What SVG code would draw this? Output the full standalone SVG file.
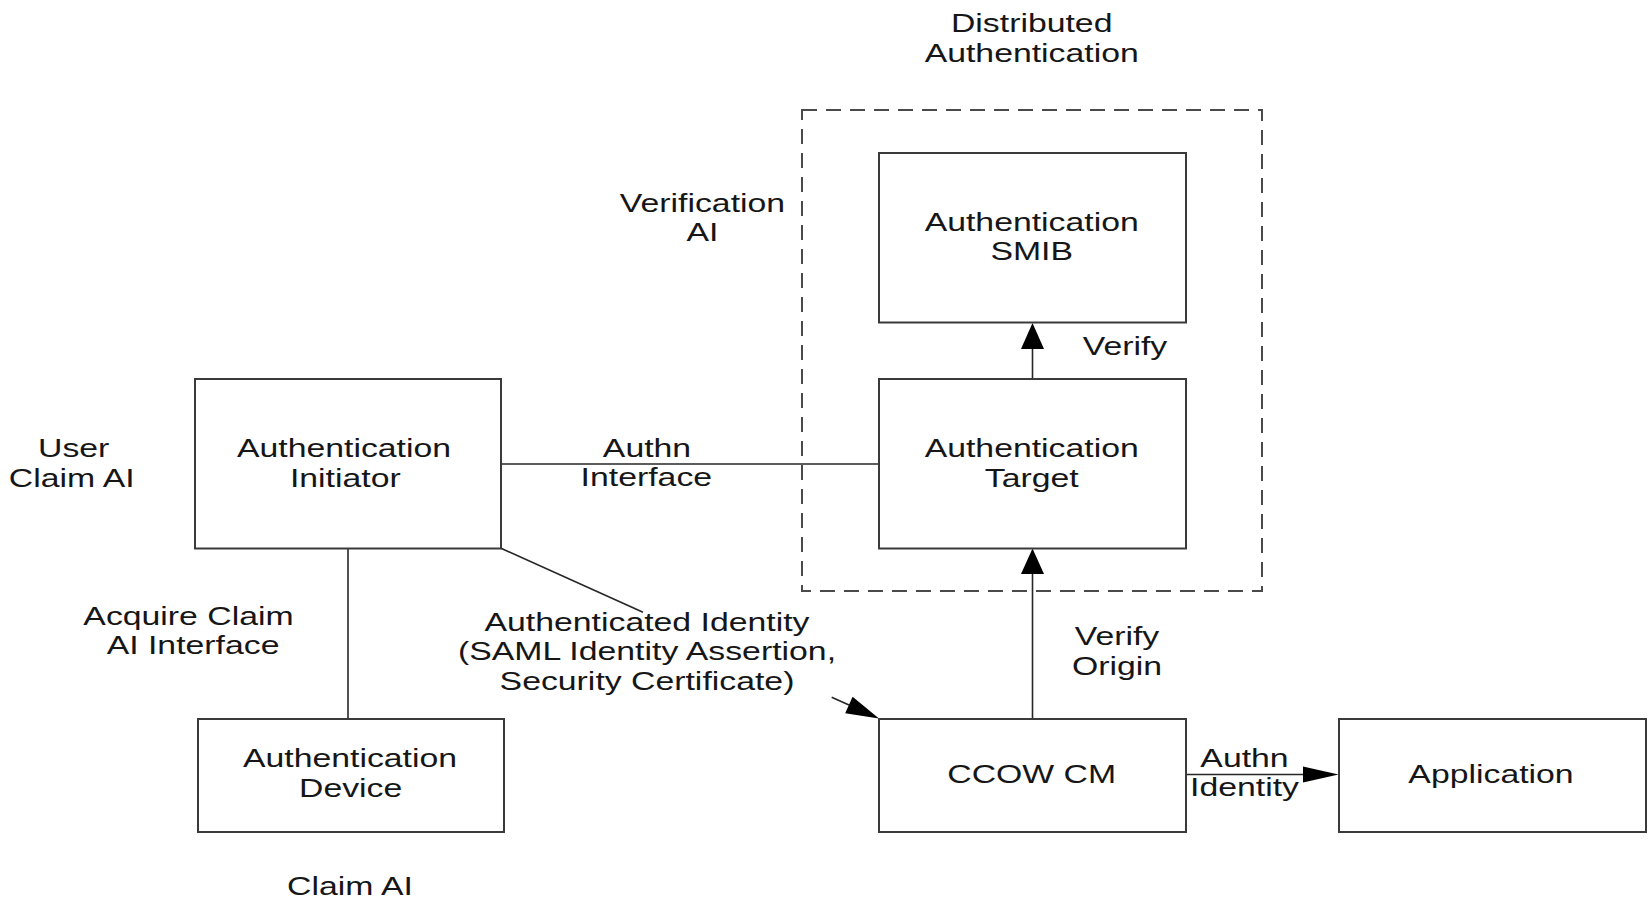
<svg xmlns="http://www.w3.org/2000/svg" width="1651" height="900" viewBox="0 0 1651 900">
  <style>
    .box { fill: #ffffff; stroke: #3a3a3a; stroke-width: 2; }
    .group { fill: none; stroke: #4a4a4a; stroke-width: 2; stroke-dasharray: 15 9; }
    .wire { fill: none; stroke: #262626; stroke-width: 1.6; }
    .head { fill: #000000; stroke: none; }
    .t { font-family: "Liberation Sans", Arial, sans-serif; font-size: 26px; fill: #161616; text-anchor: middle; }
  </style>

  <rect width="1651" height="900" fill="#ffffff"/>

  <!-- distributed authentication boundary -->
  <g id="distributed-authentication">
    <rect class="group" x="802" y="110" width="460" height="481"/>
    <text class="t" transform="translate(1031.7,31.7) scale(1.3,1)"><tspan x="0">Distributed</tspan><tspan x="0" dy="30">Authentication</tspan></text>
  </g>

  <!-- connectors -->
  <g id="connectors">
    <!-- Authn Interface -->
    <line class="wire" x1="501" y1="464" x2="879" y2="464"/>
    <!-- Acquire Claim AI Interface -->
    <line class="wire" x1="348" y1="548.5" x2="348" y2="719"/>
    <!-- Authenticated Identity (broken around its label) -->
    <line class="wire" x1="501" y1="548.3" x2="643" y2="612.2"/>
    <line class="wire" x1="831.7" y1="697.2" x2="849" y2="705"/>
    <polygon class="head" points="879,718.5 845.2,713.2 852.6,696.7"/>
    <!-- Verify -->
    <line class="wire" x1="1032.5" y1="379" x2="1032.5" y2="348"/>
    <polygon class="head" points="1032.5,323 1021,349 1044,349"/>
    <!-- Verify Origin -->
    <line class="wire" x1="1032.5" y1="719" x2="1032.5" y2="573"/>
    <polygon class="head" points="1032.5,548.5 1021,574 1044,574"/>
    <!-- Authn Identity -->
    <line class="wire" x1="1186" y1="774.5" x2="1304" y2="774.5"/>
    <polygon class="head" points="1338.5,774.5 1303,766.5 1303,782.5"/>
  </g>

  <!-- connector and interface labels -->
  <g id="labels">
    <text class="t" transform="translate(702.5,211.7) scale(1.3,1)"><tspan x="0">Verification</tspan><tspan x="0" dy="29.5">AI</tspan></text>
    <text class="t" transform="translate(1125,355) scale(1.3,1)">Verify</text>
    <text class="t" transform="translate(73,457.3) scale(1.3,1)"><tspan x="0.5">User</tspan><tspan x="-1" dy="29.5">Claim AI</tspan></text>
    <text class="t" transform="translate(647,456.5) scale(1.3,1)"><tspan x="0">Authn</tspan><tspan x="-0.5" dy="29.5">Interface</tspan></text>
    <text class="t" transform="translate(188.5,625) scale(1.3,1)"><tspan x="0">Acquire Claim</tspan><tspan x="3.5" dy="29.5">AI Interface</tspan></text>
    <text class="t" transform="translate(647,631) scale(1.3,1)"><tspan x="0">Authenticated Identity</tspan><tspan x="0" dy="29.5">(SAML Identity Assertion,</tspan><tspan x="0" dy="29.5">Security Certificate)</tspan></text>
    <text class="t" transform="translate(1117,645.4) scale(1.3,1)"><tspan x="0">Verify</tspan><tspan x="0" dy="29.5">Origin</tspan></text>
    <text class="t" transform="translate(1244.5,767) scale(1.3,1)"><tspan x="0">Authn</tspan><tspan x="0" dy="29.5">Identity</tspan></text>
    <text class="t" transform="translate(350,895) scale(1.3,1)">Claim AI</text>
  </g>

  <g id="authentication-smib">
    <rect class="box" x="879" y="153" width="307" height="169.5"/>
    <text class="t" transform="translate(1031.7,230.7) scale(1.3,1)"><tspan x="0">Authentication</tspan><tspan x="0" dy="29.5">SMIB</tspan></text>
  </g>

  <g id="authentication-target">
    <rect class="box" x="879" y="379" width="307" height="169.5"/>
    <text class="t" transform="translate(1031.7,457.3) scale(1.3,1)"><tspan x="0">Authentication</tspan><tspan x="0" dy="29.5">Target</tspan></text>
  </g>

  <g id="authentication-initiator">
    <rect class="box" x="195" y="379" width="306" height="169.5"/>
    <text class="t" transform="translate(344,457.3) scale(1.3,1)"><tspan x="0">Authentication</tspan><tspan x="1" dy="29.5">Initiator</tspan></text>
  </g>

  <g id="authentication-device">
    <rect class="box" x="198" y="719" width="306" height="113"/>
    <text class="t" transform="translate(350,766.7) scale(1.3,1)"><tspan x="0">Authentication</tspan><tspan x="0.5" dy="30">Device</tspan></text>
  </g>

  <g id="ccow-cm">
    <rect class="box" x="879" y="719" width="307" height="113"/>
    <text class="t" transform="translate(1031.7,782.7) scale(1.3,1)">CCOW CM</text>
  </g>

  <g id="application">
    <rect class="box" x="1339" y="719" width="307" height="113"/>
    <text class="t" transform="translate(1491,782.7) scale(1.3,1)">Application</text>
  </g>
</svg>
